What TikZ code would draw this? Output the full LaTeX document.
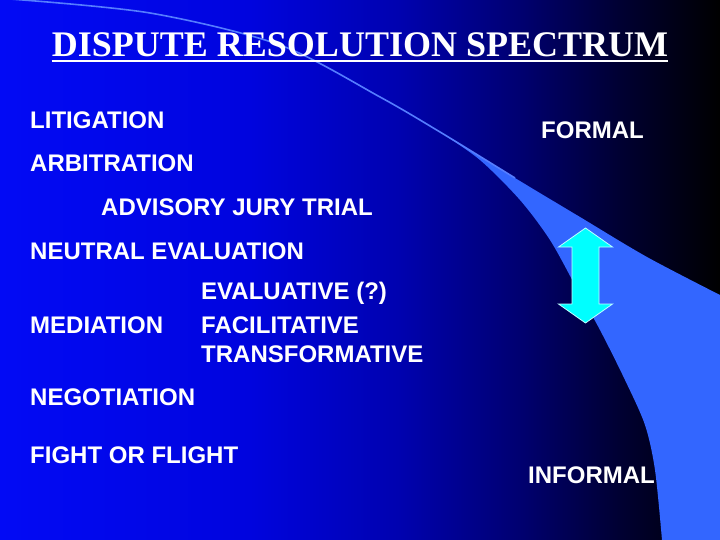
\documentclass[tikz,border=0pt]{standalone}
\usepackage{fontspec}
\setmainfont{Liberation Serif}
\setsansfont{Liberation Sans}
\definecolor{bandblue}{RGB}{51,102,255}
\definecolor{lineblue}{RGB}{85,125,255}
\definecolor{arrowcyan}{RGB}{0,255,255}
\definecolor{arrowedge}{RGB}{190,255,255}
\definecolor{g0}{RGB}{2,10,245}
\definecolor{g1}{RGB}{0,4,222}
\definecolor{g2}{RGB}{0,2,175}
\definecolor{g3}{RGB}{0,0,112}
\definecolor{g4}{RGB}{0,0,50}
\definecolor{g5}{RGB}{0,0,0}
\pgfdeclarehorizontalshading{bgshade}{100bp}{color(0bp)=(g0); color(25bp)=(g0); color(42.36bp)=(g1); color(52.78bp)=(g2); color(61.11bp)=(g3); color(68.06bp)=(g4); color(75bp)=(g5); color(100bp)=(g5)}
\begin{document}
\begin{tikzpicture}[x=1pt,y=-1pt,
  item/.style={font=\sffamily\bfseries\fontsize{24}{28}\selectfont, text=white, anchor=base west, inner sep=0pt},
  titlestyle/.style={font=\rmfamily\bfseries\fontsize{36}{40}\selectfont, text=white, anchor=base, inner sep=0pt}]
\useasboundingbox (0,0) rectangle (720,540);
\fill[shading=bgshade] (0,0) rectangle (720,540);
% light band
\fill[bandblue] plot[smooth] coordinates {(440,132) (515,178) (580,217) (647,257) (720,295)}
  -- (720,540) -- (662,540)
  -- plot[smooth] coordinates {(662,540) (655,470) (645,425) (625,380) (600,330) (575,285) (550,240) (520,200) (480,160) (440,132)} -- cycle;
% thin arc line
\draw[lineblue, line width=1.6pt] plot[smooth] coordinates {(10,-1) (150,13) (280,45) (380,97) (440,132) (515,178)};
% double arrow
\filldraw[fill=arrowcyan, draw=arrowedge, line width=0.8pt]
  (585.5,228) -- (612.5,247) -- (599,247) -- (599,304) -- (612.5,304) -- (585.5,323)
  -- (558.5,304) -- (572,304) -- (572,247) -- (558.5,247) -- cycle;
% title
\node[titlestyle] (title) at (360,57) {DISPUTE RESOLUTION SPECTRUM};
\draw[white, line width=2pt] ([yshift=-4.5pt]title.base west) -- ([yshift=-4.5pt]title.base east);
% items
\node[item] (lit) at (30,129) {LITIGATION};
\node[item] (formal) at (541,139) {FORMAL};
\node[item] (arb) at (30,172) {ARBITRATION};
\node[item] (adv) at (101,215) {ADVISORY JURY TRIAL};
\node[item] (neu) at (30,259) {NEUTRAL EVALUATION};
\node[item] (eva) at (201,299) {EVALUATIVE (?)};
\node[item] (med) at (30,333) {MEDIATION};
\node[item] (fac) at (201,333) {FACILITATIVE};
\node[item] (tra) at (201,362) {TRANSFORMATIVE};
\node[item] (neg) at (30,405) {NEGOTIATION};
\node[item] (fig) at (30,463) {FIGHT OR FLIGHT};
\node[item] (informal) at (528,483) {INFORMAL};
\end{tikzpicture}
\end{document}
